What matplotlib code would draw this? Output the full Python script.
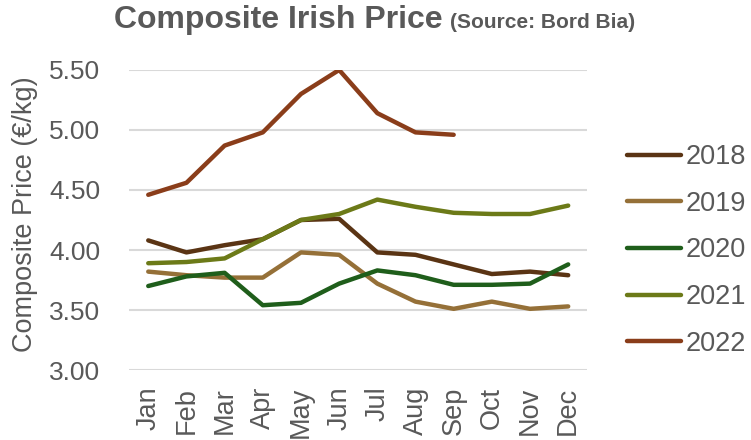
import matplotlib
matplotlib.use("Agg")
import matplotlib.pyplot as plt

plt.rcParams['font.family'] = ['Liberation Sans', 'DejaVu Sans']

months = ["Jan", "Feb", "Mar", "Apr", "May", "Jun", "Jul", "Aug", "Sep", "Oct", "Nov", "Dec"]
years = ["2018", "2019", "2020", "2021", "2022"]
p2018 = [4.08, 3.98, 4.04, 4.09, 4.25, 4.26, 3.98, 3.96, 3.88, 3.80, 3.82, 3.79]
p2019 = [3.82, 3.79, 3.77, 3.77, 3.98, 3.96, 3.72, 3.57, 3.51, 3.57, 3.51, 3.53]
p2020 = [3.70, 3.78, 3.81, 3.54, 3.56, 3.72, 3.83, 3.79, 3.71, 3.71, 3.72, 3.88]
p2021 = [3.89, 3.90, 3.93, 4.09, 4.25, 4.30, 4.42, 4.36, 4.31, 4.30, 4.30, 4.37]
p2022 = [4.46, 4.56, 4.87, 4.98, 5.30, 5.50, 5.14, 4.98, 4.96]
colors = ["#5A3414", "#957038", "#1F5E1B", "#6C7A18", "#8A3D1A"]

series = [p2018, p2019, p2020, p2021, p2022]

fig = plt.figure(figsize=(7.51, 4.40), dpi=100)
ax = fig.add_axes([0.172, 0.159, 0.61, 0.682])

for yr, vals, c in zip(years, series, colors):
    ax.plot(range(len(vals)), vals, color=c, lw=3.2, label=yr, solid_capstyle='round', solid_joinstyle='round')

ax.set_xlim(-0.5, 11.5)
ax.set_ylim(3.0, 5.5)
yt = [3.0, 3.5, 4.0, 4.5, 5.0, 5.5]
ax.set_yticks(yt)
ax.set_yticklabels([f"{v:.2f}" for v in yt])
ax.set_xticks(range(12))
ax.set_xticklabels(months, rotation=90)
ax.grid(axis='y', color='#D9D9D9', lw=1.5)
ax.set_axisbelow(True)
for s in ax.spines.values():
    s.set_visible(False)
ax.tick_params(axis='y', length=0, labelsize=19, colors='#595959', pad=21)
ax.tick_params(axis='x', length=0, labelsize=19.5, colors='#595959', pad=12)
ax.set_ylabel("Composite Price (€/kg)", fontsize=19.5, color='#595959')
ax.yaxis.set_label_coords(-0.199, 0.52)

fig.text(0.59, 0.955, "Composite Irish Price", fontsize=23, fontweight='bold', color='#595959', ha='right', va='center')
fig.text(0.599, 0.95, "(Source: Bord Bia)", fontsize=15, fontweight='bold', color='#595959', ha='left', va='center')

leg = fig.legend(loc='upper left', bbox_to_anchor=(0.835, 0.672), frameon=False, fontsize=19.5,
                 handlelength=2.0, handletextpad=0.15, labelspacing=0.76, labelcolor='#595959',
                 borderpad=0, borderaxespad=0)

fig.savefig("out.png", dpi=100)
